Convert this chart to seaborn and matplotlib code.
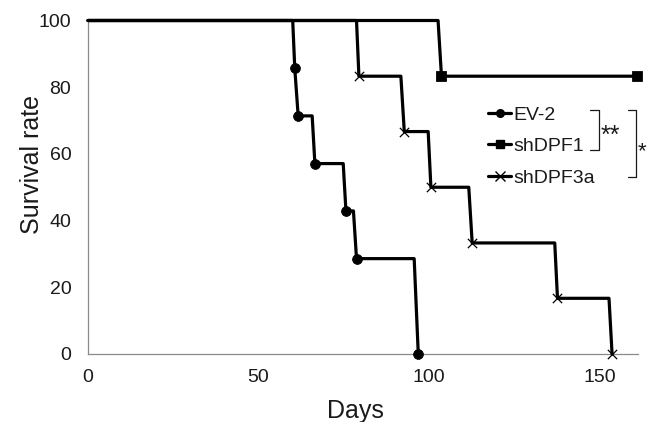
import numpy as np
import pandas as pd
import matplotlib
matplotlib.use("Agg")
import matplotlib.pyplot as plt
from matplotlib.lines import Line2D
import seaborn as sns

# ---- data ----
ev2_drop = [60.0, 60.6, 65.7, 74.8, 77.8, 95.6]
ev2_event = [60.6, 61.6, 66.5, 75.6, 78.7, 96.8]
ev2_surv = [85.7, 71.4, 57.1, 42.9, 28.6, 0.0]

dpf1_drop = [102.6]
dpf1_event = [103.6]
dpf1_surv = [83.3]
dpf1_censor_day = [160.8]

dpf3a_drop = [78.7, 91.7, 99.7, 111.6, 136.8, 152.7]
dpf3a_event = [79.4, 92.7, 100.5, 112.6, 137.6, 153.6]
dpf3a_surv = [83.3, 66.7, 50.0, 33.3, 16.7, 0.0]

labels = ["EV-2", "shDPF1", "shDPF3a"]
x_ticks = [0, 50, 100, 150]
y_ticks = [0, 20, 40, 60, 80, 100]


def step_path(drop, event, surv, end=None):
    xs, ys = [0.0], [100.0]
    prev = 100.0
    for d, e, s in zip(drop, event, surv):
        xs += [d, e]
        ys += [prev, s]
        prev = s
    if end is not None:
        for t in end:
            xs.append(t)
            ys.append(prev)
    return pd.DataFrame({"day": xs, "surv": ys})


sns.set_style("white")
plt.rcParams["font.family"] = ["Liberation Sans", "DejaVu Sans"]

W, H = 648, 422
fig = plt.figure(figsize=(W / 100, H / 100), dpi=100)
L, R, T, B = 88, 638, 20.5, 354
ax = fig.add_axes([L / W, 1 - B / H, (R - L) / W, (B - T) / H])

LW = 2.3
paths = [
    step_path(ev2_drop, ev2_event, ev2_surv),
    step_path(dpf1_drop, dpf1_event, dpf1_surv, dpf1_censor_day),
    step_path(dpf3a_drop, dpf3a_event, dpf3a_surv),
]
for p in paths:
    sns.lineplot(data=p, x="day", y="surv", sort=False, estimator=None,
                 color="black", lw=LW, ax=ax, clip_on=False, zorder=3)

sns.scatterplot(x=ev2_event, y=ev2_surv, marker="o", s=50, color="black",
                edgecolor="black", ax=ax, clip_on=False, zorder=4)
sns.scatterplot(x=dpf1_event + dpf1_censor_day, y=dpf1_surv * 2, marker="s",
                s=52, color="black", edgecolor="black", ax=ax,
                clip_on=False, zorder=4)
sns.scatterplot(x=dpf3a_event, y=dpf3a_surv, marker="x", s=45, color="black",
                linewidth=0.9, ax=ax, clip_on=False, zorder=4)

ax.set_xlim(0, 161.2)
ax.set_ylim(0, 100)
ax.set_xticks(x_ticks)
ax.set_yticks(y_ticks)
ax.set_xticklabels([str(v) for v in x_ticks])
ax.set_yticklabels([str(v) for v in y_ticks])

spine_c = "#8a8a8a"
for s in ["top", "right"]:
    ax.spines[s].set_visible(False)
for s in ["left", "bottom"]:
    ax.spines[s].set_color(spine_c)
    ax.spines[s].set_linewidth(0.9)
ax.tick_params(axis="both", which="major", direction="out", colors=spine_c,
               labelcolor="#1a1a1a", labelsize=14, width=0.9)
ax.tick_params(axis="y", length=5, pad=7)
ax.tick_params(axis="x", length=4.5, pad=6)

ax.set_xlabel("Days", fontsize=18, color="#1a1a1a")
ax.set_ylabel("Survival rate", fontsize=18, color="#1a1a1a")
ax.xaxis.set_label_coords((355 - L) / (R - L), -0.135)
ax.yaxis.set_label_coords(-0.08, (B - 165) / (B - T))

handles = [
    Line2D([], [], color="black", lw=LW, marker="o", ms=5.5),
    Line2D([], [], color="black", lw=LW, marker="s", ms=5.5),
    Line2D([], [], color="black", lw=LW, marker="x", ms=7, mew=1.0),
]
leg = ax.legend(handles, labels, loc="upper left",
                bbox_to_anchor=((488 - L) / (R - L), (B - 106) / (B - T)),
                frameon=False, fontsize=14, handlelength=1.2,
                handletextpad=0.1, labelspacing=0.72, borderpad=0,
                borderaxespad=0)
for t in leg.get_texts():
    t.set_color("#1a1a1a")


def px(x, y):
    return x / W, 1 - y / H


def bracket(x0, x1, y0, y1):
    xs = [x0, x1, x1, x0]
    ys = [y0, y0, y1, y1]
    pts = [px(a, b) for a, b in zip(xs, ys)]
    fig.add_artist(Line2D([p[0] for p in pts], [p[1] for p in pts],
                          color="#1a1a1a", lw=0.9,
                          transform=fig.transFigure))


bracket(590, 599, 110, 150)
bracket(628, 636, 110, 177)
fx, fy = px(601, 143)
fig.text(fx, fy, "**", fontsize=18, color="#1a1a1a", va="baseline", ha="left")
fx, fy = px(638, 157)
fig.text(fx, fy, "*", fontsize=16, color="#1a1a1a", va="baseline", ha="left")

fig.savefig("out.png", dpi=100)
